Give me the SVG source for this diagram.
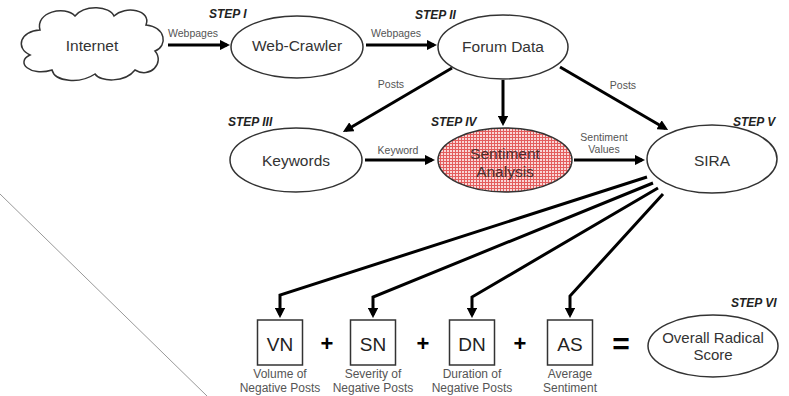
<svg xmlns="http://www.w3.org/2000/svg" width="789" height="396" viewBox="0 0 789 396">
<defs>
  <marker id="ah" viewBox="0 0 10 10" refX="7" refY="5" markerWidth="3.5" markerHeight="3.5" orient="auto" markerUnits="strokeWidth">
    <path d="M0,0 L10,5 L0,10 z" fill="#000"/>
  </marker>
  <pattern id="grid" width="3" height="3" patternUnits="userSpaceOnUse">
    <rect width="3" height="3" fill="#e35d5d"/>
    <rect width="2" height="2" fill="#f9d6d6"/>
  </pattern>
</defs>
<style>
  .node { fill: #fff; stroke: #333; stroke-width: 1.5; }
  .lbl { font-family: "Liberation Sans", Arial, sans-serif; font-size: 15.5px; fill: #333; text-anchor: middle; }
  .clbl { font-family: "Liberation Sans", Arial, sans-serif; font-size: 10.5px; fill: #555; text-anchor: middle; }
  .step { font-family: "Liberation Sans", Arial, sans-serif; font-size: 12px; font-weight: bold; font-style: italic; fill: #222; }
  .box { fill: #fff; stroke: #333; stroke-width: 1.5; }
  .blbl { font-family: "Liberation Sans", Arial, sans-serif; font-size: 19px; fill: #222; text-anchor: middle; }
  .sub { font-family: "Liberation Sans", Arial, sans-serif; font-size: 12px; fill: #555; text-anchor: middle; }
  .op { font-family: "Liberation Sans", Arial, sans-serif; font-weight: bold; fill: #000; text-anchor: middle; }
  .conn { fill: none; stroke: #000; stroke-width: 3; marker-end: url(#ah); }
</style>
<rect width="789" height="396" fill="#fff"/>
<line x1="0" y1="194" x2="207" y2="396" stroke="#999" stroke-width="1"/>

<g id="internet">
  <path class="node" d="M40,30 C35,12 65,5 75,16 C85,4 110,6 114,16 C125,5 152,10 146,25 C166,27 168,46 155,51 C165,63 150,79 135,70 C125,83 100,82 95,74 C80,84 55,82 52,70 C30,77 15,62 30,55 C15,48 20,31 40,30 Z"/>
  <text class="lbl" x="92" y="51">Internet</text>
</g>
<g id="webcrawler">
  <ellipse class="node" cx="297" cy="47" rx="66" ry="31"/>
  <text class="lbl" x="297" y="51">Web-Crawler</text>
  <text class="step" x="209" y="18">STEP I</text>
</g>
<g id="forumdata">
  <ellipse class="node" cx="503" cy="47" rx="65" ry="32"/>
  <text class="lbl" x="503" y="52">Forum Data</text>
  <text class="step" x="415" y="19">STEP II</text>
</g>
<g id="keywords">
  <ellipse class="node" cx="296" cy="160" rx="66" ry="32"/>
  <text class="lbl" x="296" y="165.5">Keywords</text>
  <text class="step" x="228" y="126">STEP III</text>
</g>
<g id="sentiment">
  <ellipse cx="505" cy="160" rx="67" ry="32" fill="url(#grid)" stroke="#333" stroke-width="1.5"/>
  <text class="lbl" x="505" y="158.5" style="fill:#4a2e2e">Sentiment</text>
  <text class="lbl" x="505" y="176.5" style="fill:#4a2e2e">Analysis</text>
  <text class="step" x="431" y="126">STEP IV</text>
</g>
<g id="sira">
  <ellipse class="node" cx="712" cy="159" rx="65" ry="34"/>
  <text class="lbl" x="712" y="165.5">SIRA</text>
  <text class="step" x="733" y="126">STEP V</text>
</g>
<g id="vn">
  <rect class="box" x="257.5" y="320" width="45" height="45"/>
  <text class="blbl" x="280" y="351">VN</text>
  <text class="sub" x="280" y="378">Volume of</text>
  <text class="sub" x="280" y="392">Negative Posts</text>
</g>
<g id="sn">
  <rect class="box" x="350.5" y="320" width="45" height="45"/>
  <text class="blbl" x="373" y="351">SN</text>
  <text class="sub" x="373" y="378">Severity of</text>
  <text class="sub" x="373" y="392">Negative Posts</text>
</g>
<g id="dn">
  <rect class="box" x="449.5" y="320" width="45" height="45"/>
  <text class="blbl" x="472" y="351">DN</text>
  <text class="sub" x="472" y="378">Duration of</text>
  <text class="sub" x="472" y="392">Negative Posts</text>
</g>
<g id="as">
  <rect class="box" x="547.5" y="320" width="45" height="45"/>
  <text class="blbl" x="570" y="351">AS</text>
  <text class="sub" x="570" y="378">Average</text>
  <text class="sub" x="570" y="392">Sentiment</text>
</g>
<g id="overall">
  <ellipse class="node" cx="713" cy="346" rx="65" ry="31"/>
  <text class="lbl" x="713" y="343" style="font-size:15px">Overall Radical</text>
  <text class="lbl" x="713" y="360" style="font-size:15px">Score</text>
  <text class="step" x="731" y="307">STEP VI</text>
</g>
<g id="operators">
  <text class="op" x="327" y="351" font-size="22">+</text>
  <text class="op" x="423" y="351" font-size="22">+</text>
  <text class="op" x="520" y="351" font-size="22">+</text>
  <text class="op" x="621" y="354" font-size="30">=</text>
</g>

<g id="connectors">
  <path class="conn" d="M168,45 H227"/>
  <path class="conn" d="M366,45 H434"/>
  <path class="conn" d="M452,68 L345.6,130.5"/>
  <path class="conn" d="M503,80 V123"/>
  <path class="conn" d="M560,67 L665.4,128.5"/>
  <path class="conn" d="M365,160 H432"/>
  <path class="conn" d="M574,160 H642"/>
  <path class="conn" d="M647,177 L280,295 V315"/>
  <path class="conn" d="M653,183 L373,297 V315"/>
  <path class="conn" d="M658,188 L472,297 V315"/>
  <path class="conn" d="M663,194 L570,296 V315"/>
  <text class="clbl" x="193" y="37">Webpages</text>
  <text class="clbl" x="396" y="37">Webpages</text>
  <text class="clbl" x="391" y="88">Posts</text>
  <text class="clbl" x="623" y="89">Posts</text>
  <text class="clbl" x="398" y="154">Keyword</text>
  <text class="clbl" x="604" y="141">Sentiment</text>
  <text class="clbl" x="604" y="153">Values</text>
</g>
</svg>
